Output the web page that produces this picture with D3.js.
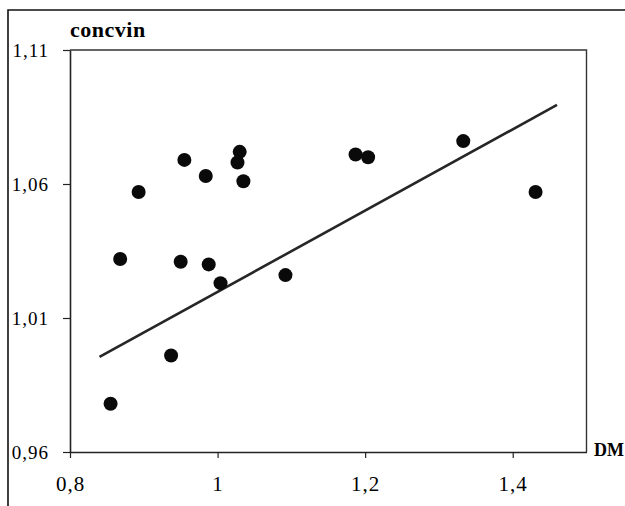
<!DOCTYPE html>
<html>
<head>
<meta charset="utf-8">
<script src="https://cdn.jsdelivr.net/npm/d3@7"></script>
<style>
  body { margin: 0; background: #fff; }
  svg { display: block; font-family: "Liberation Serif", "DejaVu Serif", serif; }
</style>
</head>
<body>
<div id="showBox"></div>
<script>
// values
const dmValues = [0.855, 0.868, 0.893, 0.937, 0.950, 0.955, 0.984, 0.988, 1.004, 1.027, 1.030, 1.035, 1.092, 1.187, 1.204, 1.333, 1.431];
const concvinValues = [0.978, 1.032, 1.057, 0.996, 1.031, 1.069, 1.063, 1.030, 1.023, 1.068, 1.072, 1.061, 1.026, 1.071, 1.070, 1.076, 1.057];
const trendX = [0.840, 1.460];
const trendY = [0.9955, 1.0895];
const xTicks = [0.8, 1, 1.2, 1.4];
const yTicks = [0.96, 1.01, 1.06, 1.11];

const width = 625, height = 506;
const plot = {left: 70, top: 50, right: 586.5, bottom: 452};

const svg = d3.select("#showBox").append("svg")
    .attr("width", width)
    .attr("height", height);

// outer frame (left + top edge of the scanned page)
svg.append("path")
    .attr("d", `M8,${height} V10 H${width}`)
    .attr("fill", "none")
    .attr("stroke", "#111")
    .attr("stroke-width", 1.6);

const x = d3.scaleLinear().domain([0.8, 1.5]).range([plot.left, plot.right]);
const y = d3.scaleLinear().domain([0.96, 1.11]).range([plot.bottom, plot.top]);

const comma = d => String(d).replace(".", ",");

// box around plot area (top / right)
svg.append("path")
    .attr("d", `M${plot.left},${plot.top} H${plot.right} V${plot.bottom}`)
    .attr("fill", "none")
    .attr("stroke", "#333")
    .attr("stroke-width", 1.4);

const yAxis = svg.append("g")
    .attr("transform", `translate(${plot.left},0)`)
    .call(d3.axisLeft(y).tickValues(yTicks).tickFormat(comma).tickSize(7).tickSizeOuter(0).tickPadding(14));

const xAxis = svg.append("g")
    .attr("transform", `translate(0,${plot.bottom})`)
    .call(d3.axisBottom(x).tickValues(xTicks).tickFormat(comma).tickSize(6).tickSizeOuter(0));

[yAxis, xAxis].forEach(g => {
    g.select(".domain").attr("stroke", "#222").attr("stroke-width", 1.6);
    g.selectAll(".tick line").attr("stroke", "#222").attr("stroke-width", 1.2);
    g.selectAll("text").attr("fill", "#000").style("font-family", "Liberation Serif");
});

yAxis.selectAll("text")
    .attr("font-size", 19)
    .attr("letter-spacing", 1)
    .attr("dy", "0.33em");

xAxis.selectAll("text")
    .attr("font-size", 21)
    .attr("letter-spacing", 1)
    .attr("y", 39)
    .attr("dy", 0);

// trend line
svg.append("line")
    .attr("x1", x(trendX[0])).attr("y1", y(trendY[0]))
    .attr("x2", x(trendX[1])).attr("y2", y(trendY[1]))
    .attr("stroke", "#262626")
    .attr("stroke-width", 2.6);

// points
svg.append("g")
    .selectAll("circle")
    .data(dmValues.map((d, i) => [d, concvinValues[i]]))
    .join("circle")
    .attr("cx", d => x(d[0]))
    .attr("cy", d => y(d[1]))
    .attr("r", 7)
    .attr("fill", "#0a0a0a");

// axis titles
svg.append("text")
    .attr("x", 70).attr("y", 37)
    .attr("font-size", 22)
    .attr("font-weight", "bold")
    .attr("letter-spacing", 0.5)
    .text("concvin");

svg.append("text")
    .attr("x", 594).attr("y", 456)
    .attr("font-size", 18)
    .attr("font-weight", "bold")
    .text("DM");
</script>
</body>
</html>
